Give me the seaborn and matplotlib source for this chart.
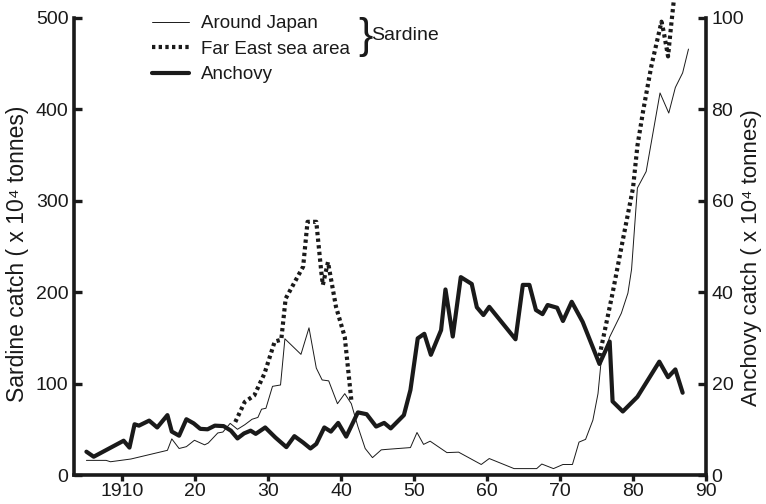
import numpy as np
import pandas as pd
import matplotlib
matplotlib.use("Agg")
import matplotlib.pyplot as plt
import seaborn as sns
from matplotlib.lines import Line2D

# ---- data ----
japan_years = [1905.1, 1907.8, 1908.4, 1911.2, 1916.2, 1916.8, 1917.8, 1918.8, 1919.9, 1921.3,
               1921.8, 1923.1, 1923.8, 1924.8, 1925.8, 1926.8, 1927.8, 1928.6, 1929.1, 1929.7,
               1930.6, 1931.7, 1932.3, 1934.5, 1935.6, 1936.6, 1937.4, 1938.3, 1939.5, 1940.5,
               1941.4, 1942.3, 1943.3, 1944.3, 1945.5, 1946.2, 1949.5, 1950.4, 1951.3, 1952.2,
               1954.5, 1956.1, 1959.2, 1960.3, 1963.7, 1966.8, 1967.5, 1969.1, 1970.4, 1971.7,
               1972.6, 1973.5, 1974.5, 1975.2, 1975.6, 1976.8, 1978.4, 1979.3, 1979.8, 1980.6,
               1981.8, 1983.7, 1984.9, 1985.8, 1986.8, 1987.6]
japan_vals = [16, 16, 14.5, 17.5, 27, 39.5, 29, 31, 38, 33,
              35, 46, 47, 56.5, 50, 55, 61, 63, 72, 73,
              97, 98.5, 149, 132, 161, 117, 104, 103, 78, 89,
              78, 53, 29, 19, 27.5, 28, 30, 46.5, 33.5, 37,
              24.5, 25, 11.5, 18, 7, 7, 12, 7, 11.5, 11.5,
              36, 39, 60, 89, 122, 151, 177, 199, 225, 314,
              332, 418, 396, 424, 440, 466]

fe1_years = [1925.5, 1926.8, 1928.1, 1929.5, 1930.9, 1931.8, 1932.4, 1934.8, 1935.4, 1936.6,
             1937.3, 1937.5, 1938.2, 1939.3, 1940.5, 1941.4]
fe1_vals = [58, 80, 87, 111, 146, 148, 193, 228, 277, 277,
            221, 208, 233, 184, 151, 82]

fe2_years = [1975.4, 1977.2, 1978.6, 1980.0, 1980.6, 1981.4, 1982.5, 1983.9, 1984.2, 1984.8,
             1985.2, 1985.6]
fe2_vals = [130, 199, 257, 314, 360, 399, 447, 496, 485, 458, 490, 520]

anch_years = [1905.1, 1906.1, 1910.2, 1911.0, 1911.7, 1912.3, 1913.7, 1914.8, 1916.2, 1916.8,
              1917.8, 1918.8, 1919.8, 1920.7, 1921.7, 1922.7, 1923.9, 1924.9, 1925.8, 1926.7,
              1927.6, 1928.3, 1929.6, 1931.0, 1932.5, 1933.6, 1934.8, 1935.8, 1936.6, 1937.7,
              1938.6, 1939.6, 1940.7, 1942.3, 1943.5, 1944.8, 1945.9, 1946.8, 1948.6, 1949.5,
              1950.5, 1951.4, 1952.3, 1953.7, 1954.3, 1955.3, 1956.4, 1957.9, 1958.6, 1959.5,
              1960.3, 1963.9, 1964.9, 1965.8, 1966.7, 1967.6, 1968.3, 1969.6, 1970.4, 1971.6,
              1973.1, 1975.4, 1976.8, 1977.2, 1978.6, 1980.6, 1982.2, 1983.6, 1984.8, 1985.8,
              1986.8]
anch_vals = [5.1, 4.0, 7.5, 6.0, 11.1, 10.8, 11.9, 10.4, 13.1, 9.5,
             8.6, 12.2, 11.3, 10.1, 10.0, 10.8, 10.7, 9.7, 8.0, 9.1,
             9.7, 9.0, 10.4, 8.2, 6.1, 8.5, 7.1, 5.8, 6.8, 10.4,
             9.5, 11.4, 8.4, 13.7, 13.3, 10.6, 11.4, 10.2, 13.1, 18.6,
             29.9, 30.9, 26.3, 31.7, 40.6, 30.3, 43.3, 41.8, 36.7, 35.0,
             36.8, 29.7, 41.6, 41.6, 36.1, 35.2, 37.2, 36.6, 33.7, 37.9,
             33.5, 24.3, 29.2, 16.1, 13.9, 17.1, 21.2, 24.8, 21.4, 23.1,
             18.0]

x_ticks = [1910, 1920, 1930, 1940, 1950, 1960, 1970, 1980, 1990]
x_tick_labels = ["1910", "20", "30", "40", "50", "60", "70", "80", "90"]
left_ticks = [0, 100, 200, 300, 400, 500]
right_ticks = [0, 20, 40, 60, 80, 100]

# ---- style ----
sns.set_style("ticks")
plt.rcParams["font.family"] = ["Liberation Sans", "DejaVu Sans"]
INK = "#1a1a1a"

fig = plt.figure(figsize=(7.66, 5.04), dpi=100)
ax = fig.add_axes([74/766, 1-475/504, (706-74)/766, (475-18)/504])
ax2 = ax.twinx()

sns.lineplot(x=japan_years, y=japan_vals, ax=ax, color=INK, lw=0.7, sort=False, estimator=None)
sns.lineplot(x=fe1_years, y=fe1_vals, ax=ax, color=INK, lw=3.0, sort=False, estimator=None,
             linestyle=(0, (0.8, 0.8)))
sns.lineplot(x=fe2_years, y=fe2_vals, ax=ax, color=INK, lw=3.0, sort=False, estimator=None,
             linestyle=(0, (0.8, 0.8)))
for ln in ax.lines:
    ln.set_clip_on(False)
sns.lineplot(x=anch_years, y=anch_vals, ax=ax2, color=INK, lw=3.0, sort=False, estimator=None)

ax.set_xlim(1903.4, 1990)
ax.set_ylim(0, 500)
ax2.set_ylim(0, 100)
ax.set_xticks(x_ticks)
ax.set_xticklabels(x_tick_labels)
ax.set_yticks(left_ticks)
ax2.set_yticks(right_ticks)

for a in (ax, ax2):
    for s in a.spines.values():
        s.set_linewidth(2.6)
        s.set_color(INK)
    a.spines["top"].set_visible(False)
ax2.spines["left"].set_visible(False)
ax2.spines["bottom"].set_visible(False)
ax.spines["right"].set_visible(False)

ax.tick_params(axis="x", direction="out", width=2.4, length=4.5, labelsize=14, colors=INK, pad=1.5)
ax.tick_params(axis="y", direction="in", width=2.4, length=6, labelsize=14, colors=INK, pad=4)
ax2.tick_params(axis="y", direction="in", width=2.4, length=6, labelsize=14, colors=INK, pad=4)

ax.set_ylabel("Sardine catch ( x 10\u2074 tonnes)", fontsize=16.5, color=INK)
ax2.set_ylabel("Anchovy catch ( x 10\u2074 tonnes)", fontsize=16, color=INK, rotation=90)
ax.yaxis.set_label_coords(-0.071, 0.485)
ax2.yaxis.set_label_coords(1.056, 0.475)
ax.set_xlabel("")

handles = [Line2D([], [], color=INK, lw=0.7),
           Line2D([], [], color=INK, lw=3.0, linestyle=(0, (0.8, 0.8))),
           Line2D([], [], color=INK, lw=3.0)]
labels = ["Around Japan", "Far East sea area", "Anchovy"]
leg = ax2.legend(handles, labels, loc="upper left", bbox_to_anchor=(152/766, 1-15/504),
                 bbox_transform=fig.transFigure, frameon=False, fontsize=13.5,
                 handlelength=1.95, handletextpad=0.65, labelspacing=0.45,
                 borderpad=0, borderaxespad=0)
for t in leg.get_texts():
    t.set_color(INK)
fig.text(358/766, 1-37/504, "}", fontsize=31, color=INK, va="center", ha="left",
         fontweight="light")
fig.text(371/766, 1-35/504, "Sardine", fontsize=14, color=INK, va="center", ha="left")

fig.savefig("out.png", dpi=100)
